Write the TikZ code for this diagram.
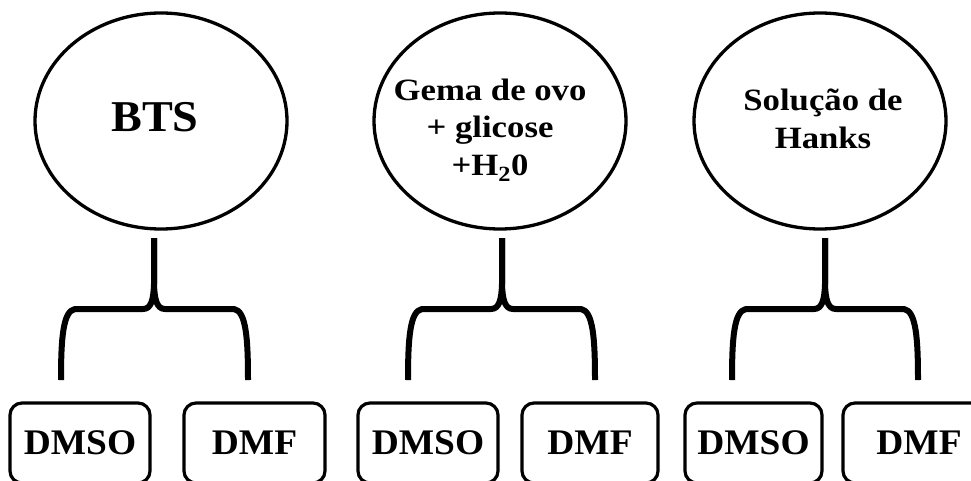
\documentclass[tikz,border=0pt]{standalone}
\usepackage{fontspec}
\usepackage{graphicx}
\setmainfont{Liberation Serif}
\usetikzlibrary{shapes.geometric}

% slightly widened lettering
\newcommand\wideline[2]{\scalebox{#1}[1]{#2}}

% Curly bracket joining one medium to its two cryoprotectants:
% #1 tag, #2 stem x, #3 left arm x, #4 right arm x
\newcommand\drawfork[4]{%
  \coordinate (top#1) at (#2,238);
  \coordinate (lft#1) at (#3,380);
  \coordinate (rgt#1) at (#4,380);
  \draw[forkline] (lft#1) .. controls (#3,338) and (#3+2,311) .. (#3+14,309)
    -- (#2-11,309) .. controls (#2-3,309) and (#2-0.5,300) .. (#2,284) -- (top#1);
  \draw[forkline] (rgt#1) .. controls (#4,338) and (#4-2,311) .. (#4-14,309)
    -- (#2+11,309) .. controls (#2+3,309) and (#2+0.5,300) .. (#2,284) -- (top#1);
}

\begin{document}
\begin{tikzpicture}[x=1pt,y=-1pt,
  medium/.style={draw, ellipse, line width=3.3pt, inner sep=0pt,
    minimum width=252pt, minimum height=216pt},
  mediumtext/.style={align=center, inner sep=0pt,
    font=\bfseries\fontsize{31}{37.5}\selectfont},
  agent/.style={draw, rectangle, rounded corners=12pt, line width=3.2pt,
    minimum height=80pt, inner sep=0pt, font=\bfseries\fontsize{36}{40}\selectfont},
  forkline/.style={line width=6pt, line cap=butt, line join=round}]

\clip (0,0) rectangle (971,481);

% culture media
\node[medium] (e1) at (161,121) {};
\node[medium] (e2) at (500,121) {};
\node[medium] (e3) at (820,121) {};

\node[mediumtext, font=\bfseries\fontsize{44}{50}\selectfont] (m1) at (155,117.5) {\wideline{1.05}{BTS}};
\node[mediumtext] (m2) at (490,130) {\wideline{1.12}{Gema de ovo}\\\wideline{1.12}{+ glicose}\\\wideline{1.12}{+H\textsubscript{2}0}};
\node[mediumtext] (m3) at (823,119) {\wideline{1.12}{Solução de}\\\wideline{1.12}{Hanks}};

% brackets
\drawfork{1}{154}{61}{248}
\drawfork{2}{502}{408}{595}
\drawfork{3}{825}{732}{918}

% cryoprotectants
\node[agent, minimum width=140pt] (a1) at (80,443) {\wideline{1.04}{DMSO}};
\node[agent, minimum width=141pt] (b1) at (254.5,443) {\wideline{1.04}{DMF}};
\node[agent, minimum width=140pt] (a2) at (428,443) {\wideline{1.04}{DMSO}};
\node[agent, minimum width=136pt] (b2) at (590,443) {\wideline{1.04}{DMF}};
\node[agent, minimum width=137pt] (a3) at (753.5,443) {\wideline{1.04}{DMSO}};
\node[agent, minimum width=152pt] (b3) at (919,443) {\wideline{1.04}{DMF}};
\end{tikzpicture}
\end{document}
